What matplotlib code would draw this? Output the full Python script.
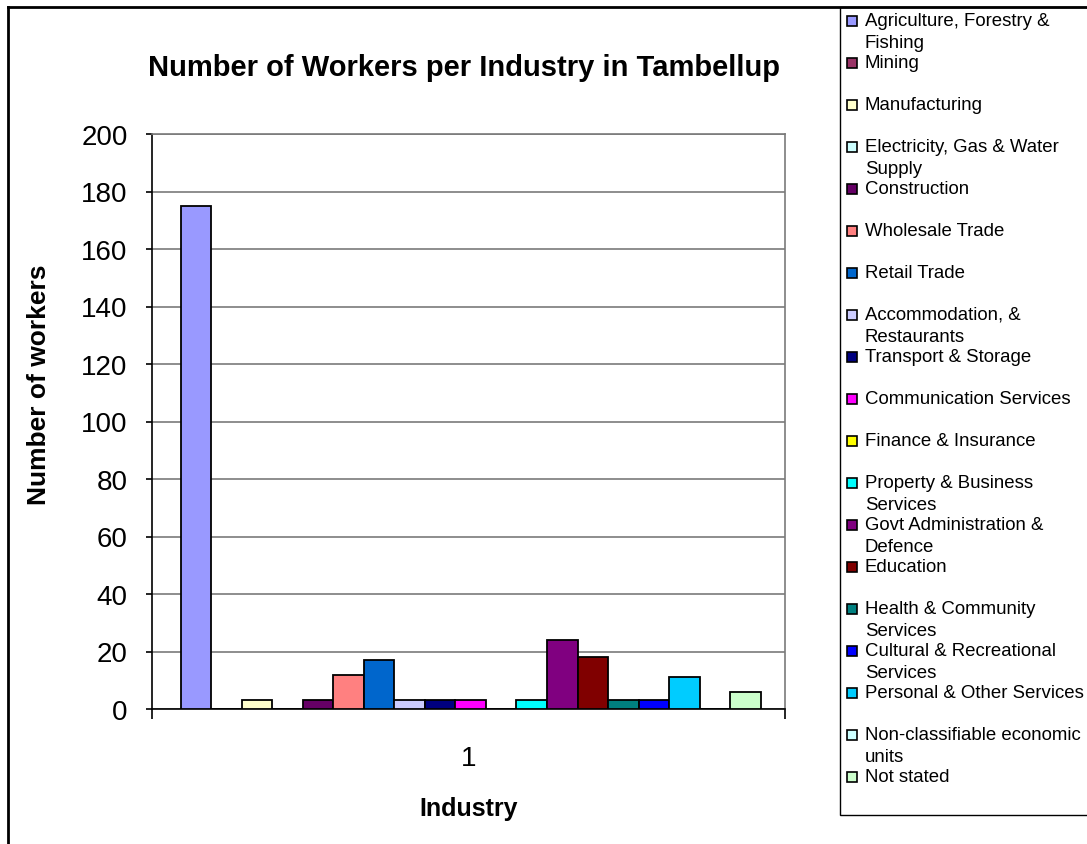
import numpy as np
import matplotlib
matplotlib.use('Agg')
import matplotlib.pyplot as plt
from matplotlib.patches import Rectangle
from matplotlib.lines import Line2D

plt.rcParams['font.family'] = ['Liberation Sans', 'DejaVu Sans']

# ── Data ──
industries = [
    "Agriculture, Forestry &\nFishing", "Mining", "Manufacturing",
    "Electricity, Gas & Water\nSupply", "Construction", "Wholesale Trade",
    "Retail Trade", "Accommodation, &\nRestaurants", "Transport & Storage",
    "Communication Services", "Finance & Insurance",
    "Property & Business\nServices", "Govt Administration &\nDefence",
    "Education", "Health & Community\nServices",
    "Cultural & Recreational\nServices", "Personal & Other Services",
    "Non-classifiable economic\nunits", "Not stated",
]
workers = [175, 0, 3, 0, 3, 12, 17, 3, 3, 3, 0, 3, 24, 18, 3, 3, 11, 0, 6]
colors = [
    "#9999FF", "#993366", "#FFFFCC", "#CCFFFF", "#660066", "#FF8080",
    "#0066CC", "#CCCCFF", "#000080", "#FF00FF", "#FFFF00", "#00FFFF",
    "#800080", "#800000", "#008080", "#0000FF", "#00CCFF", "#CCFFFF",
    "#CCFFCC",
]
category = [1]
y_ticks = [0, 20, 40, 60, 80, 100, 120, 140, 160, 180, 200]

W, H = 1087, 845
fig = plt.figure(figsize=(W / 100, H / 100), dpi=100)
ax = fig.add_axes([152 / W, 1 - 710 / H, 633 / W, 575 / H])

n = len(workers)
w = 0.0482
offsets = 0.0035 + (np.arange(n) - (n - 1) / 2) * w
for i in range(n):
    ax.bar(category[0] + offsets[i], workers[i], w, color=colors[i],
           edgecolor="black", linewidth=1.3, zorder=3)

ax.set_xlim(0.5, 1.5)
ax.set_ylim(0, 200)
ax.set_yticks(y_ticks)
ax.set_yticklabels([str(t) for t in y_ticks], fontsize=20)
ax.yaxis.grid(True, color="#7a7a7a", linewidth=1.2, zorder=0)
ax.set_xticks(category)
ax.set_xticklabels([str(c) for c in category], fontsize=20)
ax.tick_params(axis="x", length=0, pad=26)
ax.set_xticks([0.5, 1.5], minor=True)
ax.tick_params(axis="x", which="minor", length=7.5, width=1.2, color="black")
ax.tick_params(axis="y", length=4, width=1.2, pad=13.5)

for s in ["top", "right"]:
    ax.spines[s].set_color("#7a7a7a")
    ax.spines[s].set_linewidth(1.2)
for s in ["left", "bottom"]:
    ax.spines[s].set_color("black")
    ax.spines[s].set_linewidth(1.2)

ax.set_ylabel("Number of workers", fontsize=19, fontweight="bold")
ax.yaxis.set_label_coords((51 - 152) / 633, (710 - 385) / 575)
ax.set_xlabel("Industry", fontsize=18, fontweight="bold", labelpad=18)

fig.text(464 / W, 1 - 76 / H, "Number of Workers per Industry in Tambellup",
         fontsize=21, fontweight="bold", ha="center", va="baseline")

# ── Outer chart border ──
fig.add_artist(Line2D([8 / W, 8 / W], [0, 1 - 8 / H], transform=fig.transFigure,
                      color="black", linewidth=2))
fig.add_artist(Line2D([8 / W, 1], [1 - 8 / H, 1 - 8 / H], transform=fig.transFigure,
                      color="black", linewidth=2))

# ── Legend box ──
fig.add_artist(Rectangle((840 / W, 1 - 816 / H), 260 / W, 808 / H,
                         transform=fig.transFigure, facecolor="white",
                         edgecolor="black", linewidth=1))
step = 42.0
for i in range(n):
    yc = 22 + i * step
    fig.add_artist(Rectangle((847 / W, 1 - (yc + 5) / H), 10 / W, 10 / H,
                             transform=fig.transFigure, facecolor=colors[i],
                             edgecolor="black", linewidth=1.2))
    fig.text(865 / W, 1 - (yc - 9) / H, industries[i], fontsize=13.4,
             ha="left", va="top", linespacing=1.35)

fig.savefig("out.png", dpi=100)
